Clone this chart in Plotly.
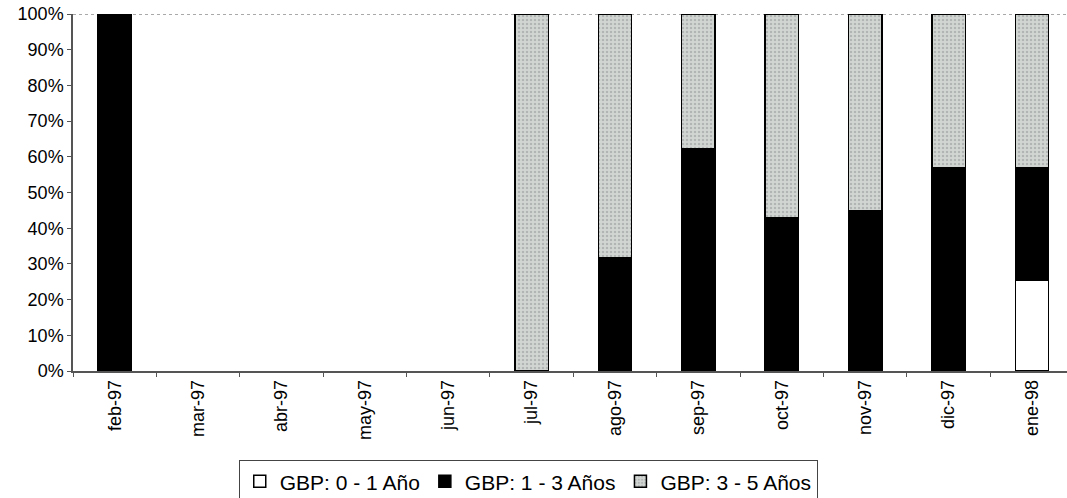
import plotly.graph_objects as go

categories = ["feb-97", "mar-97", "abr-97", "may-97", "jun-97", "jul-97",
              "ago-97", "sep-97", "oct-97", "nov-97", "dic-97", "ene-98"]
gbp_0_1 = [None, None, None, None, None, None, None, None, None, None, None, 25.3]
gbp_1_3 = [100, None, None, None, None, None, 31.8, 62.2, 42.9, 44.9, 56.9, 31.6]
gbp_3_5 = [None, None, None, None, None, 100, 68.2, 37.8, 57.1, 55.1, 43.1, 43.1]
series_names = ["GBP: 0 - 1 Año", "GBP: 1 - 3 Años", "GBP: 3 - 5 Años"]
y_ticks = [0, 10, 20, 30, 40, 50, 60, 70, 80, 90, 100]

fig = go.Figure()
fig.add_trace(go.Bar(x=categories, y=gbp_0_1, name=series_names[0],
                     marker=dict(color="white", line=dict(color="black", width=1.5)),
                     width=0.4))
fig.add_trace(go.Bar(x=categories, y=gbp_1_3, name=series_names[1],
                     marker=dict(color="black", line=dict(color="black", width=1.5)),
                     width=0.4))
fig.add_trace(go.Bar(x=categories, y=gbp_3_5, name=series_names[2],
                     marker=dict(color="#d2d6d3", line=dict(color="black", width=1.5),
                                 pattern=dict(shape=".", fgcolor="#8f9491", size=4, solidity=0.3)),
                     width=0.4))

fig.add_shape(type="line", xref="paper", yref="y", x0=0, x1=1, y0=100, y1=100,
              line=dict(color="#555", width=1, dash="dot"), layer="below")

fig.update_layout(
    barmode="stack",
    width=1067, height=498,
    margin=dict(l=73, r=0, t=14, b=127),
    paper_bgcolor="white", plot_bgcolor="white",
    font=dict(family="Liberation Sans, Arial", color="black", size=18),
    showlegend=True,
    legend=dict(orientation="h", x=0.458, xanchor="center", yref="container",
                y=0.076, yanchor="top",
                font=dict(size=21), bordercolor="#444", borderwidth=1,
                traceorder="normal", itemwidth=30, tracegroupgap=0),
    xaxis=dict(range=[-0.5, 11.42], tickangle=-90, showline=True, linecolor="#555",
               linewidth=1.5, ticks="outside", tickson="boundaries", ticklen=4,
               tickcolor="#555", showgrid=False, tickfont=dict(size=18)),
    yaxis=dict(range=[0, 100], tickvals=y_ticks, ticktext=[f"{v}%" for v in y_ticks],
               showline=True, linecolor="#555", linewidth=1.5, ticks="outside",
               ticklen=4, tickcolor="#555", showgrid=False, tickfont=dict(size=18)),
)

fig.write_html("out.html")
